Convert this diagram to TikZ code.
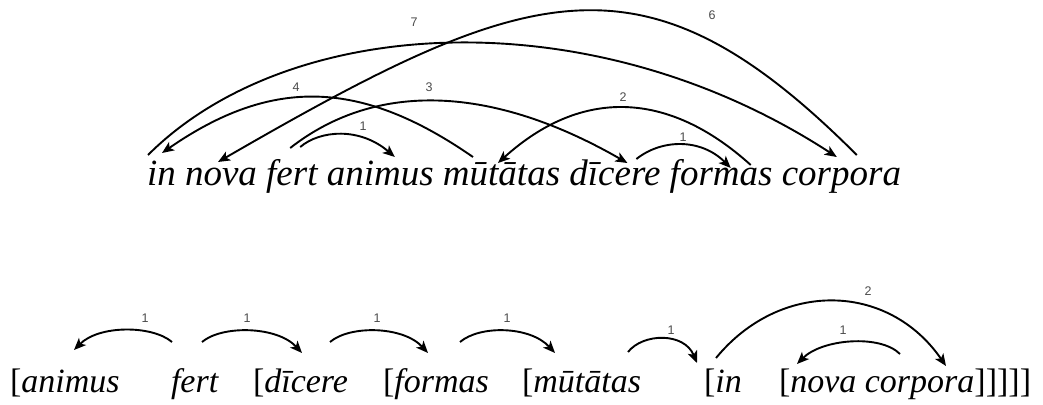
\documentclass[tikz,border=0pt]{standalone}
\usepackage{fontspec}
\setmainfont{Liberation Serif}
\setsansfont{Liberation Sans}
\usetikzlibrary{arrows.meta,positioning}
\definecolor{labgray}{RGB}{75,75,75}

\begin{document}
\begin{tikzpicture}[x=1pt, y=-1pt,
  word/.style={inner sep=0pt, outer sep=0pt, text height=0.75em, text depth=0.25em, font=\fontsize{37}{43}\selectfont\itshape},
  lword/.style={inner sep=0pt, outer sep=0pt, anchor=base west, font=\fontsize{34}{40}\selectfont},
  dep/.style={-{Stealth[length=12pt, width=10pt, inset=3pt]}, line width=1.9pt},
  num/.style={font=\sffamily\fontsize{12.5}{14}\selectfont, text=labgray, inner sep=0pt}
]
\useasboundingbox (0,0) rectangle (1043,404);

% upper line
\node[word, anchor=base west] (in) at (147,185) {in};
\node[word, right=9.25pt of in] (nova) {nova};
\node[word, right=9.25pt of nova] (fert) {fert};
\node[word, right=9.25pt of fert] (animus) {animus};
\node[word, right=9.25pt of animus] (mutatas) {mūtātas};
\node[word, right=9.25pt of mutatas] (dicere) {dīcere};
\node[word, right=9.25pt of dicere] (formas) {formas};
\node[word, right=9.25pt of formas] (corpora) {corpora};

\draw[dep] ([shift={(34,-38)}]fert.base west) .. controls +(20,-17) and +(-35,-30) .. ([shift={(68,-28)}]animus.base west);
\draw[dep] ([shift={(30,-28)}]mutatas.base west) .. controls +(-111,-77) and +(111,-77) .. ([shift={(15,-32)}]in.base west);
\draw[dep] ([shift={(24,-37)}]fert.base west) .. controls +(87,-68) and +(-134,-77) .. ([shift={(58,-22)}]dicere.base west);
\draw[dep] ([shift={(1,-30)}]in.base west) .. controls +(141,-141) and +(-246,-160) .. ([shift={(55,-28)}]corpora.base west);
\draw[dep] ([shift={(75,-30)}]corpora.base west) .. controls +(-212,-212) and +(313,-181) .. ([shift={(33,-23)}]nova.base west);
\draw[dep] ([shift={(81,-20)}]formas.base west) .. controls +(-83,-75) and +(83,-75) .. ([shift={(55,-22)}]mutatas.base west);
\draw[dep] ([shift={(67,-26)}]dicere.base west) .. controls +(25,-20) and +(-30,-30) .. ([shift={(61,-17)}]formas.base west);

\node[num] (n7) at (414,22) {7};
\node[num] (n6) at (712,15) {6};
\node[num] (n4) at (296,87) {4};
\node[num] (n3) at (429,87) {3};
\node[num] (n2) at (623,97) {2};
\node[num] (n1a) at (363,126) {1};
\node[num] (n1b) at (683,137) {1};

% lower line
\node[lword] (banimus) at (10,392) {[\textit{animus}};
\node[lword] (bfert) at (171,392) {\textit{fert}};
\node[lword] (bdicere) at (253,392) {[\textit{dīcere}};
\node[lword] (bformas) at (383,392) {[\textit{formas}};
\node[lword] (bmutatas) at (522,392) {[\textit{mūtātas}};
\node[lword] (bin) at (704,392) {[\textit{in}};
\node[lword] (bnc) at (779,392) {[\textit{nova corpora}]]]]]};

\draw[dep] ([shift={(1,-50)}]bfert.base west) .. controls +(-20,-17) and +(25,-25) .. ([shift={(64,-42)}]banimus.base west);
\draw[dep] ([shift={(31,-50)}]bfert.base west) .. controls +(20,-17) and +(-25,-27) .. ([shift={(49,-39)}]bdicere.base west);
\draw[dep] ([shift={(77,-50)}]bdicere.base west) .. controls +(20,-17) and +(-25,-27) .. ([shift={(45,-39)}]bformas.base west);
\draw[dep] ([shift={(77,-50)}]bformas.base west) .. controls +(20,-17) and +(-25,-27) .. ([shift={(33,-39)}]bmutatas.base west);
\draw[dep] ([shift={(106,-40)}]bmutatas.base west) .. controls +(15,-19) and +(-13,-31) .. ([shift={(-7,-29)}]bin.base west);
\draw[dep] ([shift={(12,-34)}]bin.base west) .. controls +(64,-78) and +(-58,-84) .. ([shift={(167,-26)}]bnc.base west);
\draw[dep] ([shift={(121,-38)}]bnc.base west) .. controls +(-20,-20) and +(25,-25) .. ([shift={(18,-28)}]bnc.base west);

\node[num] (m1) at (145,318) {1};
\node[num] (m2) at (247,318) {1};
\node[num] (m3) at (377,318) {1};
\node[num] (m4) at (507,318) {1};
\node[num] (m5) at (671,330) {1};
\node[num] (m6) at (868,291) {2};
\node[num] (m7) at (843,330) {1};
\end{tikzpicture}
\end{document}
